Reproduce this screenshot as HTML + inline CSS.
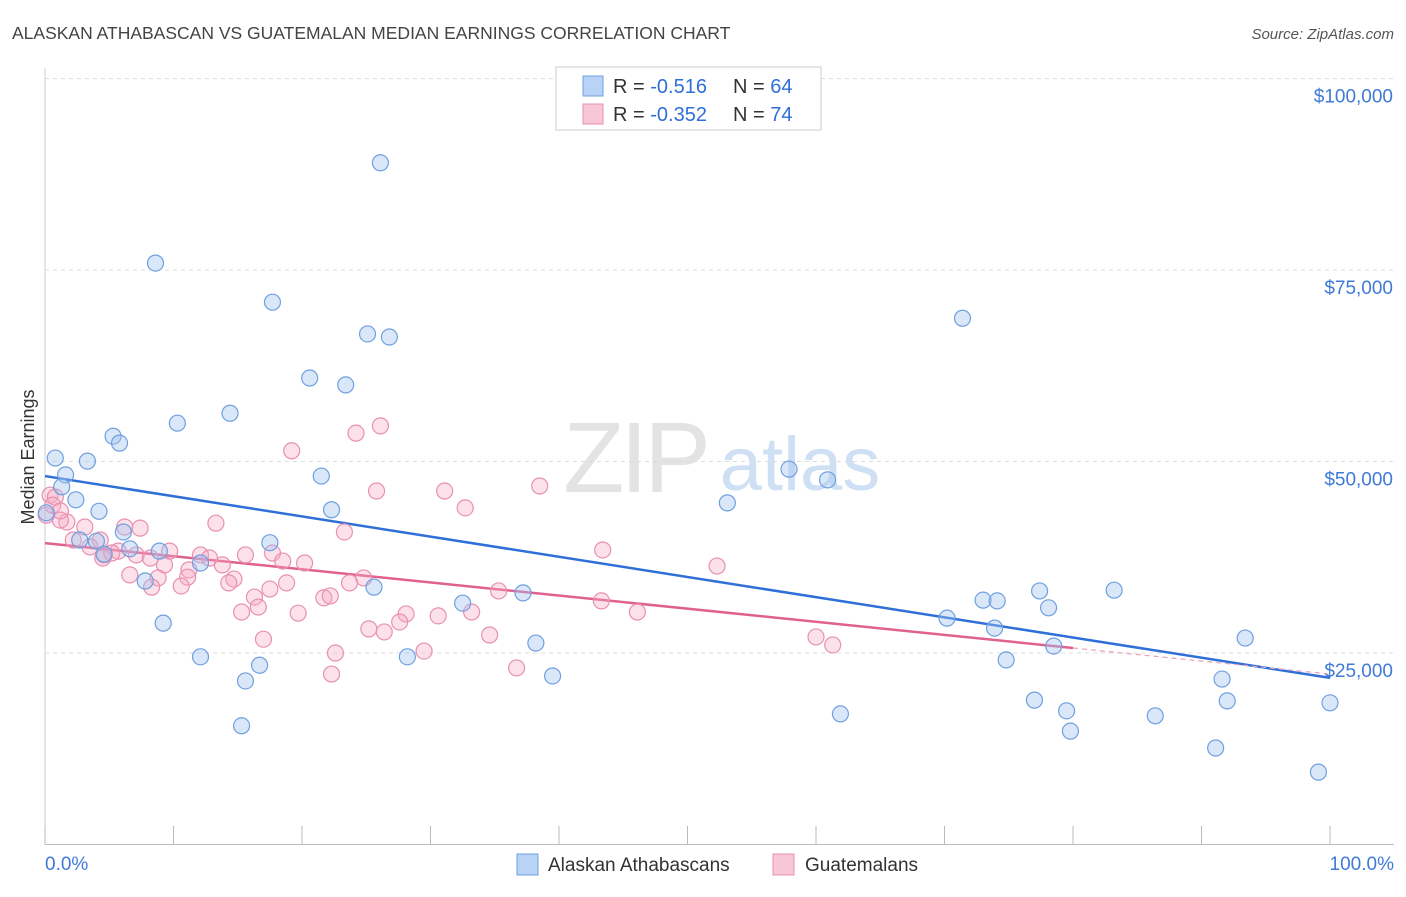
<!DOCTYPE html>
<html><head><meta charset="utf-8"><style>
body{margin:0;background:#fff;font-family:"Liberation Sans",sans-serif}
svg text{font-family:"Liberation Sans",sans-serif}
</style></head><body>
<svg id="chart" width="1406" height="892" xmlns="http://www.w3.org/2000/svg">
<text x="12" y="39" font-size="17.5" fill="#444">ALASKAN ATHABASCAN VS GUATEMALAN MEDIAN EARNINGS CORRELATION CHART</text>
<text x="1394" y="39" font-size="15" fill="#555" text-anchor="end" font-style="italic">Source: ZipAtlas.com</text>
<text transform="translate(34,457) rotate(-90)" font-size="18" fill="#333" text-anchor="middle">Median Earnings</text>
<g>
<text x="635" y="492" font-size="100" fill="#e3e3e3" text-anchor="middle" font-family="Liberation Serif,serif" letter-spacing="-4">ZIP</text>
<text x="800" y="490" font-size="76" fill="#cfe0f4" text-anchor="middle">atlas</text>
</g>
<g id="grid"></g><g id="axes"></g><g id="lines"></g><g id="pts"></g>
<g>
<rect x="556" y="67" width="265" height="63" fill="#fff" stroke="#ccc"/>
<rect x="583" y="76" width="20" height="20" fill="#b8d3f6" stroke="#6fa0e0"/>
<text x="613" y="93" font-size="20" fill="#333">R = <tspan fill="#2f6fd8">-0.516</tspan></text>
<text x="733" y="93" font-size="20" fill="#333">N = <tspan fill="#2f6fd8">64</tspan></text>
<rect x="583" y="104" width="20" height="20" fill="#f8c7d7" stroke="#e890b0"/>
<text x="613" y="121" font-size="20" fill="#333">R = <tspan fill="#2f6fd8">-0.352</tspan></text>
<text x="733" y="121" font-size="20" fill="#333">N = <tspan fill="#2f6fd8"> 74</tspan></text>
</g>
<g>
<rect x="517" y="854" width="21" height="21" fill="#b8d3f6" stroke="#6fa0e0"/>
<text x="548" y="871" font-size="19" fill="#333">Alaskan Athabascans</text>
<rect x="773" y="854" width="21" height="21" fill="#f8c7d7" stroke="#e890b0"/>
<text x="805" y="871" font-size="19" fill="#333">Guatemalans</text>
</g>
</svg>
<script>
const yTicks=[25000,50000,75000,100000];
const yTickLabels=["$25,000","$50,000","$75,000","$100,000"];
const xLabels=["0.0%","100.0%"];
const blueX=[26.1,8.6,17.7,71.4,25.1,26.8,20.6,23.4,14.4,10.3,5.3,5.8,0.8,3.3,1.6,1.3,21.5,57.9,60.9,2.4,4.2,22.3,53.1,0.1,6.1,17.5,2.7,4.0,6.6,8.9,4.6,12.1,7.8,25.6,37.2,32.5,73.0,74.1,77.4,83.2,78.1,70.2,9.2,73.9,93.4,38.2,78.5,12.1,28.2,16.7,74.8,15.6,39.5,91.6,77.0,92.0,79.5,100,61.9,86.4,15.3,79.8,91.1,99.1];
const blueY=[89000,75900,70800,68700,66650,66250,60900,60000,56300,55000,53300,52400,50450,50050,48250,46700,48100,49000,47600,45000,43500,43700,44600,43300,40800,39400,39750,39600,38600,38300,37900,36750,34400,33600,32850,31500,31900,31800,33100,33200,30900,29550,28900,28250,26950,26300,25900,24500,24500,23400,24100,21350,22000,21600,18850,18750,17450,18500,17050,16800,15500,14800,12600,9450];
const pinkX=[19.2,26.1,24.2,38.5,25.8,31.1,32.7,0.4,0.8,1.7,3.1,1.2,13.3,23.3,6.2,7.4,43.4,4.3,2.2,3.5,5.7,4.6,7.1,9.7,12.1,15.6,17.7,12.8,18.5,20.2,8.2,9.3,13.8,11.2,6.6,8.8,11.1,14.7,18.8,14.3,10.6,8.3,17.5,24.8,23.7,35.3,52.3,16.3,21.7,22.2,43.3,15.3,16.6,19.7,28.1,30.6,33.2,46.1,27.6,25.2,26.4,29.5,34.6,17.0,60.0,61.3,22.6,36.7,22.3,0.1,4.5,5.2,0.6,1.2];
const pinkY=[51400,54650,53700,46800,46150,46150,43950,45600,45350,42100,41450,42350,41950,40800,41450,41300,38450,39750,39750,38850,38300,37800,37800,38300,37800,37800,38050,37400,37000,36750,37400,36500,36500,35850,35200,34800,34900,34650,34150,34150,33750,33600,33350,34800,34150,33100,36350,32300,32200,32450,31800,30350,31000,30200,30100,29850,30350,30350,29050,28150,27750,25250,27350,26800,27100,26050,25000,23050,22250,43000,37400,38050,44300,43550];
const blueTrend=[48100,21750];
const pinkTrend=[39350,25650,22250];
const NS="http://www.w3.org/2000/svg";
const X=v=>45+v*12.85, Y=v=>844.5-v/25000*191.5;
function mk(p,t,a){const e=document.createElementNS(NS,t);for(const k in a)e.setAttribute(k,a[k]);document.getElementById(p).appendChild(e);return e;}
yTicks.forEach((t,i)=>{
 let g=mk('grid','line',{x1:45,x2:1394,y1:Y(t),y2:Y(t),stroke:'#ddd','stroke-dasharray':'4,4'});
 
 
 let tx=mk('axes','text',{x:1393,y:Y(t)+24,'font-size':19,fill:'#3f7ad8','text-anchor':'end'});
 tx.textContent=yTickLabels[i];
 
 
});
let ax=mk('axes','line',{x1:45,x2:1394,y1:844.5,y2:844.5,stroke:'#bbb'});


let ay=mk('axes','line',{x1:45,x2:45,y1:68,y2:844.5,stroke:'#ccc'});


for(let i=0;i<=10;i++){let t=mk('axes','line',{x1:X(i*10),x2:X(i*10),y1:826,y2:844.5,stroke:'#bbb'});
 
 }
[[0,45,'start'],[100,1394,'end']].forEach((d,i)=>{let t=mk('axes','text',{x:d[1],y:870,'font-size':19,fill:'#3f7ad8','text-anchor':d[2]});t.textContent=xLabels[i];
 
 });
function pts(xs,ys,fill,st,name){xs.forEach((x,i)=>{let c=mk('pts','circle',{cx:X(x),cy:Y(ys[i]),r:8,fill:fill,stroke:st,'stroke-width':1.2});
 
 });}
pts(pinkX,pinkY,'rgba(245,170,195,0.35)','#e890b0','guatemalan-point');
pts(blueX,blueY,'rgba(160,195,240,0.4)','#6fa0e0','athabascan-point');
let bl=mk('lines','line',{x1:X(0),y1:Y(blueTrend[0]),x2:X(100),y2:Y(blueTrend[1]),stroke:'#2f6fd8','stroke-width':2.5});


let pl=mk('lines','line',{x1:X(0),y1:Y(pinkTrend[0]),x2:X(80),y2:Y(pinkTrend[1]),stroke:'#e0608f','stroke-width':2.5});


let pd=mk('lines','line',{x1:X(80),y1:Y(pinkTrend[1]),x2:X(100),y2:Y(pinkTrend[2]),stroke:'#e8a0bc','stroke-width':1.2,'stroke-dasharray':'5,4'});


</script>
</body></html>
